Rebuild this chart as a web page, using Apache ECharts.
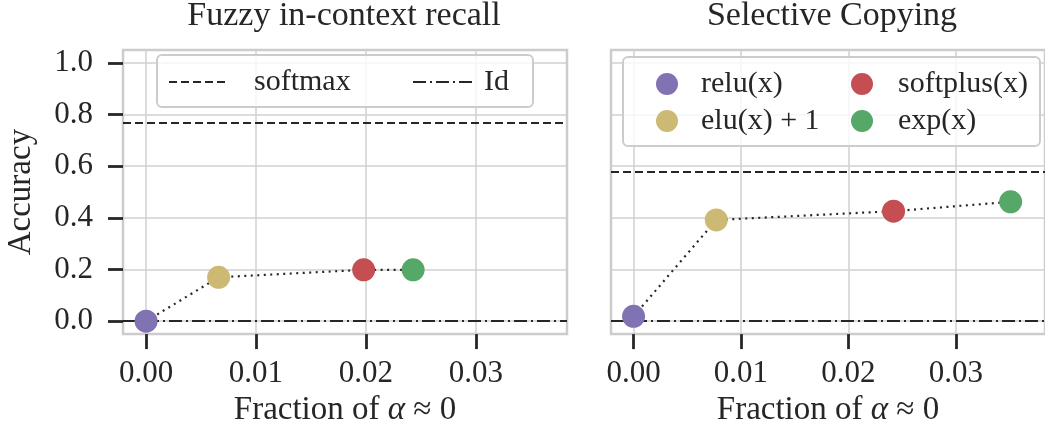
<!DOCTYPE html>
<html>
<head>
<meta charset="utf-8">
<style>
  html, body { margin: 0; padding: 0; background: #fff; }
  #chart { width: 1045px; height: 432px; }
</style>
</head>
<body>
<div id="chart"></div>
<script src="https://cdn.jsdelivr.net/npm/echarts@6/dist/echarts.min.js"></script>
<script>
// data
var panelTitles = ['Fuzzy in-context recall', 'Selective Copying'];
var actNames = ['relu(x)', 'elu(x) + 1', 'softplus(x)', 'exp(x)'];
var fuzzyFrac = [0, 0.0066, 0.0198, 0.0243];
var fuzzyAcc = [0, 0.17, 0.199, 0.199];
var copyFrac = [0, 0.0077, 0.0242, 0.0351];
var copyAcc = [0.019, 0.392, 0.426, 0.462];
var softmaxAcc = [0.77, 0.578];
var idAcc = [0, 0];
var xTicks = [0, 0.01, 0.02, 0.03];
var yTicks = [0, 0.2, 0.4, 0.6, 0.8, 1.0];

var palette = ['#8172b3', '#ccb974', '#c44e52', '#55a868'];
var ink = '#262626';
var font = 'Liberation Serif';
var fracs = [fuzzyFrac, copyFrac];
var accs = [fuzzyAcc, copyAcc];

var chart = echarts.init(document.getElementById('chart'));

var grids = [
    {left: 123, right: 478, top: 50, bottom: 97},
    {left: 611, right: -9, top: 50, bottom: 97}
].map(function (g) {
    return Object.assign({
        show: true, backgroundColor: '#fff',
        borderColor: '#cccccc', borderWidth: 2.5
    }, g);
});

var xAxes = [0, 1].map(function (i) {
    return {
        type: 'value', gridIndex: i, min: -0.0021, max: 0.0383,
        axisLine: {show: false, onZero: false},
        axisTick: {show: true, length: 15, customValues: xTicks,
            lineStyle: {color: ink, width: 2.8}},
        axisLabel: {customValues: xTicks, margin: 24, color: ink,
            fontSize: 31, fontFamily: font,
            formatter: function (v) { return v.toFixed(2); }},
        splitLine: {show: true, lineStyle: {color: '#d0d0d0', width: 1.5}},
        name: 'Fraction of {i|α} ≈ 0',
        nameLocation: 'middle', nameGap: 58,
        nameTextStyle: {color: ink, fontSize: 33, fontFamily: font,
            rich: {i: {fontStyle: 'italic', fontSize: 33, fontFamily: font, color: ink}}}
    };
});

var yAxes = [0, 1].map(function (i) {
    return {
        type: 'value', gridIndex: i, min: -0.05, max: 1.05,
        axisLine: {show: false, onZero: false},
        axisTick: {show: i === 0, length: 15, customValues: yTicks,
            lineStyle: {color: ink, width: 2.8}},
        axisLabel: {show: i === 0, customValues: yTicks, margin: 30, color: ink,
            fontSize: 31, fontFamily: font,
            formatter: function (v) { return v.toFixed(1); }},
        splitLine: {show: true, lineStyle: {color: '#d0d0d0', width: 1.5}},
        name: i === 0 ? 'Accuracy' : '',
        nameLocation: 'middle', nameGap: 85,
        nameTextStyle: {color: ink, fontSize: 33, fontFamily: font}
    };
});

var series = [];
[0, 1].forEach(function (i) {
    var refLines = [
        {name: 'softmax', value: softmaxAcc[i], dash: [8, 4]},
        {name: 'Id', value: idAcc[i], dash: [13, 4, 2, 4]}
    ];
    refLines.forEach(function (r) {
        series.push({
            type: 'line', name: r.name, xAxisIndex: i, yAxisIndex: i,
            data: [], symbol: 'none', showSymbol: false, z: 2,
            itemStyle: {color: ink, opacity: 0},
            lineStyle: {color: ink, width: 2, type: r.dash, opacity: 1},
            markLine: {
                silent: true, symbol: ['none', 'none'], label: {show: false},
                lineStyle: {color: ink, width: 2, type: r.dash, opacity: 1},
                data: [{yAxis: r.value}]
            }
        });
    });
    series.push({
        type: 'line', xAxisIndex: i, yAxisIndex: i, silent: true,
        data: fracs[i].map(function (f, k) { return [f, accs[i][k]]; }),
        symbol: 'none', z: 3,
        lineStyle: {color: ink, width: 2.2, type: [2, 4.5]}
    });
    actNames.forEach(function (name, k) {
        series.push({
            type: 'scatter', name: name, xAxisIndex: i, yAxisIndex: i,
            data: [[fracs[i][k], accs[i][k]]],
            symbolSize: 23, z: 5,
            itemStyle: {color: palette[k], opacity: 1}
        });
    });
});

var legendText = {fontSize: 30, fontFamily: font, color: ink};
function legendAt(names, left, top, gap, pad) {
    return {
        data: names, left: left, top: top, orient: 'vertical',
        padding: 0, itemGap: gap, itemWidth: 22, itemHeight: 22,
        selectedMode: false,
        textStyle: Object.assign({padding: [0, 0, 0, pad]}, legendText)
    };
}
var lineLegendStyle = {itemWidth: 60, itemStyle: {opacity: 0}, lineStyle: {opacity: 1}};
var legends = [
    Object.assign(legendAt(['softmax'], 168, 67, 0, 20), lineLegendStyle),
    Object.assign(legendAt(['Id'], 412, 67, 0, 6), lineLegendStyle),
    Object.assign(legendAt([actNames[0], actNames[1]], 656, 69, 7, 18), {icon: 'circle'}),
    Object.assign(legendAt([actNames[2], actNames[3]], 851, 69, 7, 20), {icon: 'circle'})
];

var boxStyle = {fill: 'rgba(255,255,255,0.8)', stroke: '#cccccc', lineWidth: 2};
var graphics = [
    {type: 'rect', z: 3, silent: true, shape: {x: 157, y: 55, width: 376, height: 52, r: 5}, style: boxStyle},
    {type: 'rect', z: 3, silent: true, shape: {x: 623, y: 57, width: 417, height: 89, r: 5}, style: boxStyle},
    {type: 'text', z: 3, silent: true, style: {text: panelTitles[0], x: 344, y: 16,
        textAlign: 'center', textVerticalAlign: 'middle', fill: ink,
        font: '34px "' + font + '"'}},
    {type: 'text', z: 3, silent: true, style: {text: panelTitles[1], x: 832, y: 16,
        textAlign: 'center', textVerticalAlign: 'middle', fill: ink,
        font: '34px "' + font + '"'}}
];

var option = {
    backgroundColor: '#fff',
    animation: false,
    grid: grids,
    xAxis: xAxes,
    yAxis: yAxes,
    legend: legends,
    graphic: graphics,
    series: series
};
chart.setOption(option);
</script>
</body>
</html>
